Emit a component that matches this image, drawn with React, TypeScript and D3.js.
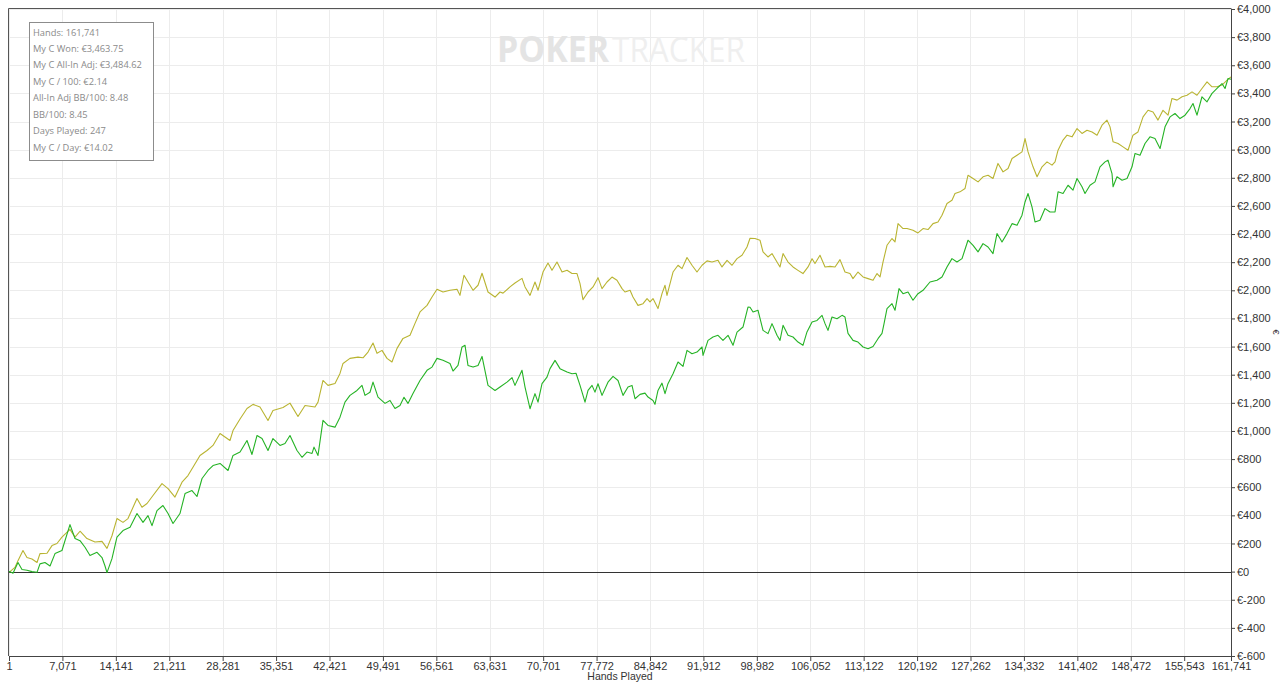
import * as d3 from "d3";
import React, { RefObject, useEffect } from "react";

// [thousand hands, euro]
const allInAdj: [number, number][] = [
    [0, 0], [0.13, 0], [0.79, 30], [1.19, 78], [1.85, 150], [2.38, 100], [3.04, 90], [3.71, 65], [4.10, 128],
    [5.03, 130], [5.69, 185], [6.35, 200], [7.01, 245], [8.07, 300], [8.74, 245], [9.40, 287], [10.32, 235],
    [11.38, 210], [12.31, 215], [12.97, 165], [13.63, 255], [14.29, 377], [15.09, 350], [15.75, 377], [16.94, 520],
    [17.60, 458], [18.27, 484], [19.06, 541], [20.25, 626], [21.05, 590], [21.97, 530], [22.90, 636], [23.69, 683],
    [24.35, 742], [25.28, 826], [26.21, 861], [27.00, 897], [27.93, 982], [29.25, 932], [29.65, 1003], [30.58, 1085],
    [31.50, 1160], [32.30, 1189], [33.22, 1170], [34.28, 1075], [34.94, 1146], [36.27, 1167], [37.19, 1198],
    [38.25, 1103], [39.18, 1181], [40.50, 1170], [40.90, 1205], [41.56, 1359], [42.22, 1324], [43.15, 1338],
    [43.81, 1409], [44.21, 1480], [45.13, 1516], [46.19, 1525], [46.86, 1520], [47.52, 1561], [48.18, 1625],
    [48.71, 1552], [49.37, 1573], [50.03, 1516], [50.69, 1490], [51.36, 1587], [52.15, 1658], [53.08, 1680],
    [53.74, 1765], [54.40, 1846], [55.33, 1893], [55.99, 1952], [56.65, 2007], [57.44, 1988], [58.37, 2000],
    [59.30, 2007], [59.69, 1964], [60.22, 2107], [60.75, 2059], [61.42, 2000], [62.08, 2036], [62.61, 2121],
    [63.40, 1988], [64.33, 1952], [64.99, 1988], [65.39, 1980], [66.31, 2024], [66.97, 2052], [67.90, 2085],
    [68.30, 2024], [68.96, 1964], [69.62, 2059], [70.02, 2000], [70.68, 2130], [71.34, 2194], [71.87, 2142],
    [72.53, 2201], [73.20, 2130], [73.86, 2142], [74.52, 2119], [75.18, 2119], [75.58, 2048], [75.97, 1934],
    [76.64, 1988], [77.30, 2024], [77.96, 2090], [78.49, 2012], [79.15, 2059], [79.81, 2094], [80.47, 2071],
    [81.14, 2012], [81.53, 1988], [82.20, 2000], [82.59, 1952], [83.25, 1893], [83.92, 1905], [84.45, 1941],
    [84.84, 1917], [85.24, 1941], [85.90, 1870], [86.43, 1976], [86.83, 2036], [87.09, 1964], [87.89, 2130],
    [88.55, 2178], [89.08, 2154], [89.74, 2233], [90.40, 2178], [91.06, 2130], [91.73, 2178], [92.39, 2209],
    [93.05, 2201], [93.84, 2213], [94.37, 2166], [95.04, 2213], [95.70, 2178], [96.36, 2225], [97.02, 2249],
    [97.68, 2308], [98.08, 2370], [98.74, 2368], [99.40, 2356], [99.80, 2273], [100.46, 2237], [100.99, 2261],
    [101.65, 2201], [102.05, 2166], [102.45, 2261], [103.11, 2201], [103.77, 2166], [104.43, 2142], [105.09, 2119],
    [105.76, 2166], [106.29, 2225], [106.68, 2190], [107.34, 2249], [108.01, 2166], [108.67, 2170], [109.33, 2166],
    [109.99, 2218], [110.65, 2130], [111.31, 2119], [111.71, 2083], [112.37, 2130], [113.04, 2095], [113.70, 2083],
    [114.36, 2071], [114.89, 2119], [115.29, 2095], [115.68, 2201], [116.21, 2320], [116.87, 2368], [117.27, 2344],
    [117.67, 2474], [118.33, 2439], [118.86, 2439], [119.65, 2427], [120.31, 2408], [120.98, 2439], [121.64, 2432],
    [122.30, 2474], [122.96, 2486], [123.49, 2534], [124.15, 2617], [124.81, 2640], [125.21, 2688], [125.87, 2700],
    [126.54, 2724], [126.93, 2818], [127.60, 2795], [128.26, 2771], [128.92, 2807], [129.58, 2818], [130.24, 2795],
    [130.90, 2902], [131.57, 2842], [132.23, 2866], [132.76, 2937], [133.42, 2960], [134.08, 2984], [134.48, 3079],
    [134.88, 2984], [135.54, 2878], [136.07, 2807], [136.73, 2878], [137.39, 2913], [138.05, 2890], [138.45, 2913],
    [138.85, 2996], [139.51, 3068], [140.04, 3103], [140.70, 3091], [141.36, 3150], [142.02, 3115], [142.68, 3138],
    [143.35, 3126], [144.01, 3103], [144.67, 3174], [145.33, 3210], [145.73, 3162], [146.13, 3056], [146.79, 3044],
    [147.45, 3020], [148.11, 2996], [148.77, 3103], [149.43, 3126], [150.10, 3233], [150.76, 3280], [151.42, 3268],
    [152.08, 3210], [152.74, 3280], [153.41, 3245], [153.93, 3364], [154.60, 3352], [155.26, 3376], [155.92, 3387],
    [156.58, 3411], [157.24, 3387], [157.90, 3435], [158.57, 3482], [159.23, 3447], [159.89, 3447], [160.55, 3459],
    [161.22, 3494], [161.74, 3518]
];

const won: [number, number][] = [
    [0, 0], [0.13, 0], [0.53, -12], [1.19, 65], [1.72, 15], [2.38, 10], [3.04, 0], [3.71, -5], [4.10, 55],
    [4.76, 65], [5.43, 40], [6.09, 128], [7.01, 150], [8.07, 334], [8.74, 235], [9.40, 220], [10.06, 173],
    [10.72, 114], [11.65, 137], [12.31, 100], [12.71, 40], [12.97, -7], [13.63, 92], [14.29, 245], [15.09, 292],
    [16.02, 315], [16.94, 413], [17.74, 350], [18.40, 398], [18.93, 327], [19.59, 434], [20.38, 470], [21.05, 413],
    [21.71, 342], [22.63, 413], [23.30, 555], [24.22, 576], [24.88, 534], [25.55, 662], [26.34, 719], [27.00, 754],
    [27.93, 769], [28.99, 719], [29.65, 826], [30.58, 850], [31.50, 932], [32.16, 833], [32.83, 968], [33.49, 946],
    [34.28, 861], [34.94, 946], [35.87, 897], [36.53, 911], [37.19, 968], [38.12, 861], [38.78, 813], [39.44, 850],
    [40.11, 840], [40.37, 885], [40.90, 826], [41.56, 1075], [42.22, 1039], [43.15, 1027], [43.81, 1098],
    [44.47, 1205], [45.13, 1253], [46.06, 1288], [46.72, 1324], [47.12, 1253], [47.78, 1275], [48.18, 1347],
    [48.84, 1240], [49.77, 1196], [50.43, 1217], [51.09, 1160], [51.75, 1181], [52.28, 1240], [52.81, 1196],
    [53.47, 1267], [54.40, 1359], [55.33, 1431], [55.99, 1454], [56.65, 1516], [57.44, 1502], [58.37, 1480],
    [58.77, 1426], [59.43, 1466], [59.96, 1597], [60.36, 1609], [60.75, 1466], [61.42, 1454], [62.08, 1466],
    [62.61, 1530], [63.40, 1324], [64.33, 1288], [64.99, 1312], [65.91, 1347], [66.58, 1379], [66.97, 1324],
    [67.90, 1431], [68.30, 1312], [68.96, 1158], [69.62, 1265], [70.02, 1205], [70.55, 1336], [71.21, 1383],
    [71.61, 1443], [72.27, 1502], [72.93, 1443], [73.86, 1419], [74.52, 1407], [75.05, 1410], [75.58, 1324],
    [76.24, 1205], [76.64, 1288], [77.17, 1324], [77.56, 1276], [77.96, 1336], [78.49, 1253], [79.28, 1347],
    [79.95, 1388], [80.61, 1359], [81.27, 1253], [81.93, 1312], [82.46, 1324], [82.86, 1229], [83.52, 1260],
    [84.18, 1269], [84.58, 1241], [85.24, 1217], [85.50, 1189], [85.90, 1288], [86.43, 1340], [86.83, 1265],
    [87.22, 1336], [87.89, 1407], [88.55, 1490], [89.21, 1459], [89.74, 1573], [90.40, 1549], [91.06, 1561],
    [91.73, 1597], [91.86, 1537], [92.52, 1644], [93.18, 1668], [93.84, 1680], [94.50, 1644], [95.17, 1680],
    [95.83, 1609], [96.36, 1703], [97.15, 1739], [97.81, 1881], [98.08, 1880], [98.48, 1846], [99.14, 1858],
    [99.80, 1715], [100.46, 1692], [100.99, 1763], [101.65, 1680], [102.05, 1644], [102.45, 1751], [103.11, 1680],
    [103.77, 1668], [104.43, 1632], [105.09, 1609], [105.62, 1704], [106.29, 1775], [106.95, 1786], [107.61, 1822],
    [108.01, 1763], [108.40, 1715], [108.93, 1810], [109.59, 1798], [110.26, 1822], [110.65, 1810], [111.05, 1694],
    [111.71, 1644], [112.37, 1632], [113.04, 1597], [113.70, 1585], [114.36, 1601], [115.02, 1656], [115.55, 1694],
    [115.82, 1763], [116.21, 1870], [116.87, 1905], [117.27, 1858], [117.80, 2012], [118.33, 1976], [118.99, 1988],
    [119.65, 1929], [120.31, 1976], [120.98, 2000], [121.90, 2059], [122.83, 2071], [123.49, 2095], [124.15, 2166],
    [124.81, 2225], [125.47, 2201], [126.14, 2225], [126.93, 2356], [127.60, 2320], [128.26, 2273], [128.92, 2332],
    [129.58, 2308], [130.24, 2261], [130.77, 2403], [131.17, 2368], [131.43, 2344], [132.09, 2403], [132.76, 2474],
    [133.42, 2462], [134.08, 2534], [134.48, 2628], [134.88, 2688], [135.40, 2593], [135.80, 2486], [136.46, 2498],
    [137.12, 2581], [137.79, 2557], [138.45, 2557], [138.85, 2700], [139.51, 2688], [140.17, 2747], [140.83, 2712],
    [141.36, 2795], [142.02, 2736], [142.42, 2688], [143.08, 2747], [143.74, 2771], [144.40, 2878], [145.07, 2913],
    [145.46, 2925], [145.99, 2830], [146.13, 2736], [146.65, 2807], [147.32, 2783], [147.98, 2795], [148.64, 2878],
    [149.04, 2973], [149.70, 2960], [150.36, 3044], [151.02, 3091], [151.68, 3079], [152.35, 3008], [153.01, 3162],
    [153.67, 3233], [154.33, 3257], [154.99, 3221], [155.66, 3245], [156.32, 3292], [156.71, 3328], [157.24, 3245],
    [157.90, 3376], [158.57, 3340], [159.23, 3400], [159.89, 3435], [160.55, 3470], [160.95, 3435], [161.35, 3506],
    [161.74, 3500]
];

const xTicks = [1, 7071, 14141, 21211, 28281, 35351, 42421, 49491, 56561, 63631, 70701, 77772, 84842, 91912,
    98982, 106052, 113122, 120192, 127262, 134332, 141402, 148472, 155543, 161741];
const yTicks = [-600, -400, -200, 0, 200, 400, 600, 800, 1000, 1200, 1400, 1600, 1800, 2000, 2200, 2400, 2600,
    2800, 3000, 3200, 3400, 3600, 3800, 4000];
const statLines = ["Hands: 161,741", "My C Won: €3,463.75", "My C All-In Adj: €3,484.62", "My C / 100: €2.14",
    "All-In Adj BB/100: 8.48", "BB/100: 8.45", "Days Played: 247", "My C / Day: €14.02"];

function InitChart(svgRef: RefObject<SVGSVGElement>) {
    const fullwidth = 1280;
    const fullheight = 682;
    // plot box
    const left = 9, right = 1231, top = 9, bottom = 656;

    const root = d3.select(svgRef.current)
        .attr("width", fullwidth)
        .attr("height", fullheight);
    root.selectAll("*").remove();
    const svg = root.append("g");

    const xScale = d3.scaleLinear().domain([1, 161741]).range([left, right]);
    const yScale = d3.scaleLinear().domain([-600, 4000]).range([bottom, top]);

    const fmt = d3.format(",");
    const euro = (v: number) => v < 0 ? "€-" + fmt(-v) : "€" + fmt(v);

    // grid
    svg.append("g").selectAll("line").data(yTicks).join("line")
        .attr("x1", left).attr("x2", right)
        .attr("y1", d => Math.round(yScale(d)) + 0.5).attr("y2", d => Math.round(yScale(d)) + 0.5)
        .attr("stroke", "#ececec");
    svg.append("g").selectAll("line").data(xTicks).join("line")
        .attr("x1", d => Math.round(xScale(d)) + 0.5).attr("x2", d => Math.round(xScale(d)) + 0.5)
        .attr("y1", top).attr("y2", bottom)
        .attr("stroke", "#ececec");

    // watermark
    const wm = svg.append("text").attr("x", 497).attr("y", 62)
        .style("font-family", "'Open Sans', sans-serif").style("font-size", "35px");
    wm.append("tspan").attr("font-weight", "bold").attr("fill", "#e4e4e4")
        .attr("textLength", 112).attr("lengthAdjust", "spacingAndGlyphs").text("POKER");
    wm.append("tspan").attr("x", 612).attr("fill", "#efefef")
        .attr("textLength", 133).attr("lengthAdjust", "spacingAndGlyphs").text("TRACKER");

    // frame
    svg.append("path")
        .attr("d", `M${left - 0.5},${bottom}V${top - 0.5}H${right + 0.5}`)
        .attr("fill", "none").attr("stroke", "#555");

    // zero line
    svg.append("line")
        .attr("x1", left).attr("x2", right)
        .attr("y1", Math.round(yScale(0)) + 0.5).attr("y2", Math.round(yScale(0)) + 0.5)
        .attr("stroke", "#333");

    // lines
    const line = d3.line<[number, number]>()
        .x(d => xScale(Math.max(1, d[0] * 1000)))
        .y(d => yScale(d[1]));

    svg.append("path").datum(allInAdj)
        .attr("d", line)
        .attr("fill", "none").attr("stroke", "#b9b431").attr("stroke-width", 1.1)
        .attr("stroke-linejoin", "round");
    svg.append("path").datum(won)
        .attr("d", line)
        .attr("fill", "none").attr("stroke", "#25b325").attr("stroke-width", 1.1)
        .attr("stroke-linejoin", "round");

    // x axis
    const xAxis = d3.axisBottom(xScale).tickValues(xTicks).tickSize(5).tickSizeOuter(0)
        .tickFormat(d => fmt(d as number));
    const xg = svg.append("g").attr("transform", `translate(0,${bottom})`).call(xAxis);
    xg.select(".domain").attr("stroke", "#444");
    xg.selectAll(".tick line").attr("stroke", "#444");
    xg.selectAll("text").attr("fill", "#333").attr("dy", "0.55em")
        .style("font-family", "'Liberation Sans', Arial, sans-serif").style("font-size", "11px");

    // y axis on the right
    const yAxis = d3.axisRight(yScale).tickValues(yTicks).tickSize(4).tickSizeOuter(0)
        .tickFormat(d => euro(d as number));
    const yg = svg.append("g").attr("transform", `translate(${right},0)`).call(yAxis);
    yg.select(".domain").attr("stroke", "#444");
    yg.selectAll(".tick line").attr("stroke", "#444");
    yg.selectAll("text").attr("fill", "#333").attr("x", 6)
        .style("font-family", "'Liberation Sans', Arial, sans-serif").style("font-size", "11px");

    // axis titles
    svg.append("text").attr("x", 620).attr("y", 680).attr("text-anchor", "middle")
        .attr("fill", "#333").style("font-family", "'Liberation Sans', Arial, sans-serif")
        .style("font-size", "10.5px").text("Hands Played");
    svg.append("text").attr("transform", `translate(1273,332) rotate(90)`).attr("text-anchor", "middle")
        .attr("fill", "#333").style("font-family", "'Liberation Sans', Arial, sans-serif")
        .style("font-size", "9px").text("€");

    // stats box
    svg.append("rect").attr("x", 29.5).attr("y", 22.5).attr("width", 124).attr("height", 138)
        .attr("fill", "white").attr("stroke", "#8c8c8c");
    svg.append("g").selectAll("text").data(statLines).join("text")
        .attr("x", 33).attr("y", (d, i) => 35.5 + i * 16.45)
        .attr("fill", "#8a8a8a")
        .style("font-family", "'Open Sans', sans-serif").style("font-size", "9.3px")
        .text(d => d);
}

export default function App() {
    const svg = React.useRef<SVGSVGElement>(null);

    useEffect(() => {
        InitChart(svg);
    }, []);

    return <div style={{ position: 'absolute', left: 0, top: 0, background: 'white' }}>
        <svg ref={svg} style={{ display: 'block' }}></svg>
    </div>
}
